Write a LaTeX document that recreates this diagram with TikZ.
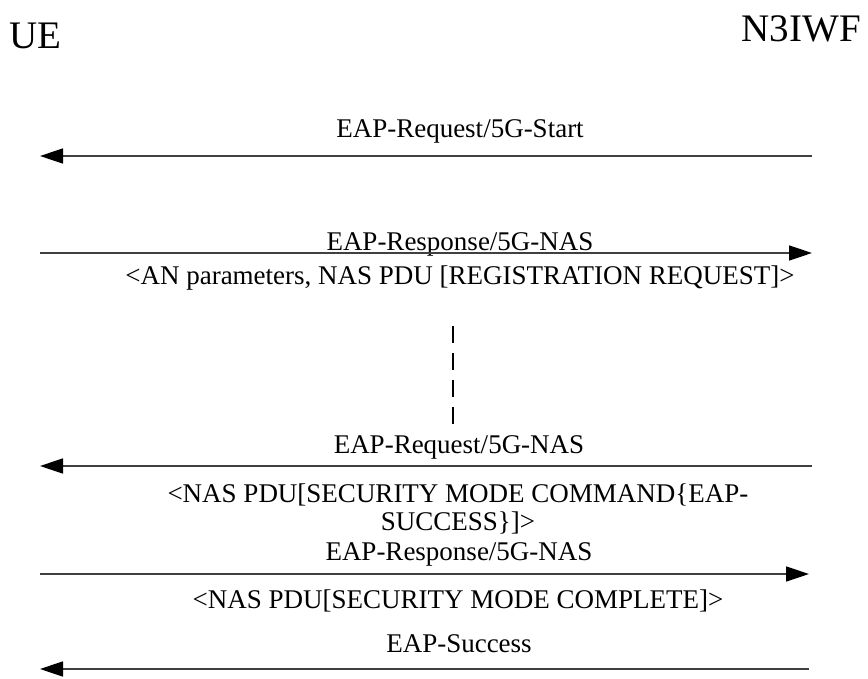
\documentclass[tikz,border=0pt]{standalone}
\usepackage{fontspec}
\setmainfont{Liberation Serif}
\usetikzlibrary{arrows.meta}

\begin{document}
\begin{tikzpicture}[x=1pt, y=-1pt, font=\fontsize{27}{28}\selectfont,
  msg/.style = {draw=black!75, line width=1.6pt, -{Triangle[length=23pt, width=15pt, color=black]}},
  lbl/.style = {anchor=base, inner sep=0pt, align=center},
  ent/.style = {anchor=base, inner sep=0pt, font=\fontsize{39}{40}\selectfont}]
\useasboundingbox (0,0) rectangle (868,678);
\node[ent, anchor=base west] (ue) at (9,48) {UE};
\node[ent, anchor=base east] (n3iwf) at (861,41) {N3IWF};
% message ends
\coordinate (u1) at (40,156); \coordinate (w1) at (812,156);
\coordinate (u2) at (40,253); \coordinate (w2) at (812,253);
\coordinate (u3) at (40,466); \coordinate (w3) at (812,466);
\coordinate (u4) at (40,574); \coordinate (w4) at (809,574);
\coordinate (u5) at (40,669); \coordinate (w5) at (809,669);
\coordinate (d1) at (453,326); \coordinate (d2) at (453,424);
\node[lbl] (m1) at (460,137) {EAP-Request/5G-Start};
\draw[msg] (w1) -- (u1);
\node[lbl] (m2) at (460,250) {EAP-Response/5G-NAS};
\node[lbl] (m2b) at (460,284) {<AN parameters, NAS PDU [REGISTRATION REQUEST]>};
\draw[msg] (u2) -- (w2);
\draw[line width=1.8pt, dash pattern=on 17pt off 10pt] (d1) -- (d2);
\node[lbl] (m3) at (459,453) {EAP-Request/5G-NAS};
\node[lbl] (m3b) at (458,530) {<NAS PDU[SECURITY MODE COMMAND\{EAP-\\SUCCESS\}]>};
\draw[msg] (w3) -- (u3);
\node[lbl] (m4) at (459,560) {EAP-Response/5G-NAS};
\node[lbl] (m4b) at (458,608) {<NAS PDU[SECURITY MODE COMPLETE]>};
\draw[msg] (u4) -- (w4);
\node[lbl] (m5) at (459,652) {EAP-Success};
\draw[msg] (w5) -- (u5);
\end{tikzpicture}
\end{document}
